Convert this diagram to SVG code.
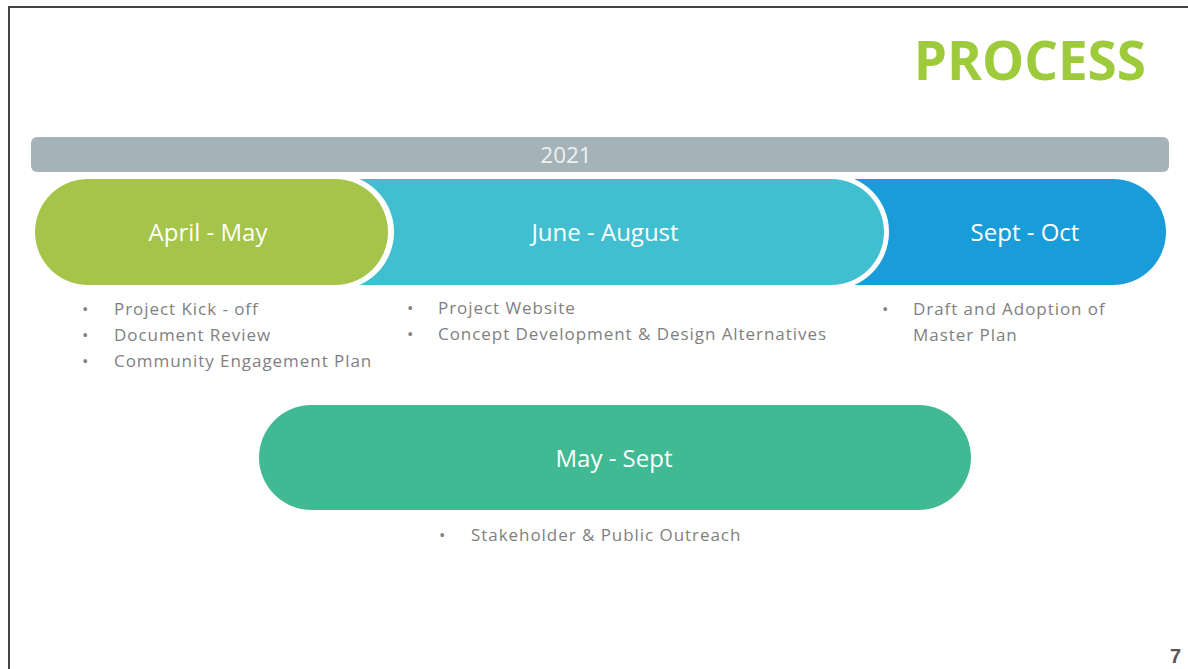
<svg xmlns="http://www.w3.org/2000/svg" width="1188" height="669" viewBox="0 0 1188 669">
<style>
.lbl{font-family:"Open Sans","DejaVu Sans",sans-serif;font-size:24px;fill:#ffffff;text-anchor:middle}
.bul{font-family:"Open Sans","DejaVu Sans",sans-serif;font-size:17px;fill:#7f7f7f;letter-spacing:0.95px}
</style>
<rect x="0" y="0" width="1188" height="669" fill="#ffffff"/>
<path d="M9 669 V7 H1188" fill="none" stroke="#444444" stroke-width="2"/>
<text x="1146" y="80" font-family="'Open Sans','DejaVu Sans',sans-serif" font-size="53" font-weight="bold" fill="#9dcb3b" text-anchor="end">PROCESS</text>
<text x="1181" y="663" font-family="'Liberation Sans',Arial,sans-serif" font-size="20" font-weight="bold" fill="#555555" text-anchor="end">7</text>
<g id="year">
<rect x="31" y="137" width="1138" height="35" rx="6" fill="#a5b3b9"/>
<text x="566" y="163" font-family="'Open Sans','DejaVu Sans',sans-serif" font-size="22.5" fill="#eef1f2" text-anchor="middle">2021</text>
</g>
<g id="connectors"></g>
<g id="sept-oct">
<path d="M830 179 H1113 A53 53 0 0 1 1113 285 H830 Z" fill="#1a9cd8"/>
<text class="lbl" x="1025" y="241">Sept - Oct</text>
</g>
<g id="june-august">
<path d="M340 174 H831 A58 58 0 0 1 831 290 H340 Z" fill="#ffffff"/>
<path d="M340 179 H831 A53 53 0 0 1 831 285 H340 Z" fill="#41bfd1"/>
<text class="lbl" x="605" y="241">June - August</text>
</g>
<g id="april-may">
<rect x="30" y="174" width="364" height="116" rx="58" fill="#ffffff"/>
<rect x="35" y="179" width="353" height="106" rx="53" fill="#a5c44a"/>
<text class="lbl" x="208" y="241">April - May</text>
</g>
<g id="april-may-items">
<text class="bul" x="82" y="315">•</text><text class="bul" x="114" y="315">Project Kick - off</text>
<text class="bul" x="82" y="341">•</text><text class="bul" x="114" y="341">Document Review</text>
<text class="bul" x="82" y="367">•</text><text class="bul" x="114" y="367">Community Engagement Plan</text>
</g>
<g id="june-august-items">
<text class="bul" x="407" y="314">•</text><text class="bul" x="438" y="314">Project Website</text>
<text class="bul" x="407" y="340">•</text><text class="bul" x="438" y="340">Concept Development &amp; Design Alternatives</text>
</g>
<g id="sept-oct-items">
<text class="bul" x="882" y="315">•</text><text class="bul" x="913" y="315">Draft and Adoption of</text>
<text class="bul" x="913" y="341">Master Plan</text>
</g>
<g id="may-sept">
<rect x="259" y="405" width="712" height="105" rx="52.5" fill="#41ba94"/>
<text class="lbl" x="614" y="467">May - Sept</text>
</g>
<g id="may-sept-items">
<text class="bul" x="439" y="541">•</text><text class="bul" x="471" y="541">Stakeholder &amp; Public Outreach</text>
</g>
</svg>
